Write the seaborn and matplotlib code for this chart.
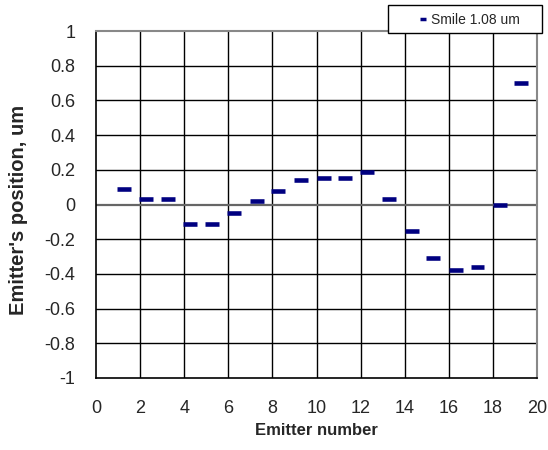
import matplotlib
matplotlib.use("Agg")
import matplotlib.pyplot as plt
import seaborn as sns
import pandas as pd
from matplotlib.ticker import MultipleLocator
from matplotlib.patches import Rectangle
from matplotlib.lines import Line2D

emitter_x = [1.28, 2.25, 3.28, 4.25, 5.28, 6.25, 7.29, 8.26, 9.29, 10.32,
             11.29, 12.31, 13.29, 14.33, 15.30, 16.33, 17.30, 18.34, 19.29]
smile_um = [0.09, 0.03, 0.03, -0.115, -0.115, -0.05, 0.02, 0.08, 0.14, 0.155,
            0.155, 0.19, 0.03, -0.15, -0.31, -0.375, -0.36, 0.0, 0.70]
series_name = "Smile 1.08 um"

df = pd.DataFrame({"x": emitter_x, "y": smile_um, "s": series_name})

sns.set_style("white")
plt.rcParams["font.family"] = ["Liberation Sans", "DejaVu Sans"]

fig = plt.figure(figsize=(5.48, 4.5), dpi=100)
ax = fig.add_axes([96/548, 1-378/450, (537-96)/548, (378-31)/450])

navy = "#000080"
sns.scatterplot(data=df, x="x", y="y", hue="s", palette=[navy], marker="_",
                s=100, linewidth=3.3, ax=ax, zorder=5, legend=False)

ax.set_xlim(0, 20)
ax.set_ylim(-1, 1)
ax.xaxis.set_major_locator(MultipleLocator(2))
ax.xaxis.set_minor_locator(MultipleLocator(1))
ax.yaxis.set_minor_locator(MultipleLocator(0.04))
ax.set_yticks([-1, -0.8, -0.6, -0.4, -0.2, 0, 0.2, 0.4, 0.6, 0.8, 1])
ax.set_yticklabels(["-1", "-0.8", "-0.6", "-0.4", "-0.2", "0", "0.2", "0.4", "0.6", "0.8", "1"])

ax.grid(False)
for xv in range(2, 20, 2):
    ax.axvline(xv, color="black", lw=1.0, zorder=1)
for yv in [-0.8, -0.6, -0.4, -0.2, 0.2, 0.4, 0.6, 0.8]:
    ax.axhline(yv, color="black", lw=1.0, zorder=1)
ax.axhline(0, color="#666666", lw=1.6, zorder=1)

for side in ["left", "bottom"]:
    ax.spines[side].set_color("black")
    ax.spines[side].set_linewidth(1.2)
for side in ["top", "right"]:
    ax.spines[side].set_color("#888888")
    ax.spines[side].set_linewidth(1.5)

ax.tick_params(axis="both", which="major", direction="inout", length=8,
               width=1.0, color="black", labelsize=13)
ax.tick_params(axis="x", which="major", pad=12)
ax.tick_params(axis="y", which="major", pad=11)
ax.tick_params(axis="both", which="minor", direction="in", length=3,
               width=1.0, color="black")
ax.tick_params(axis="x", which="both", top=False)
ax.tick_params(axis="y", which="both", right=False)

ax.set_xlabel("Emitter number", fontsize=12, fontweight="bold", labelpad=4)
ax.set_ylabel("Emitter's position, um", fontsize=14.5, fontweight="bold")
ax.yaxis.set_label_coords(-0.154, 0.484)

# legend box
fig.patches.append(Rectangle((388/548, 1-33/450), (542-388)/548, 28/450,
                             transform=fig.transFigure, facecolor="white",
                             edgecolor="black", lw=1.0, zorder=10))
handle = Line2D([], [], marker="_", color=navy, linestyle="", markersize=4,
                markeredgewidth=2.5)
leg = fig.legend([handle], [series_name], loc="center",
                 bbox_to_anchor=(470/548, 1-20/450),
                 bbox_transform=fig.transFigure, frameon=False, fontsize=10,
                 handlelength=0.4, handletextpad=0.4)
leg.set_zorder(11)

fig.savefig("out.png", dpi=100)
